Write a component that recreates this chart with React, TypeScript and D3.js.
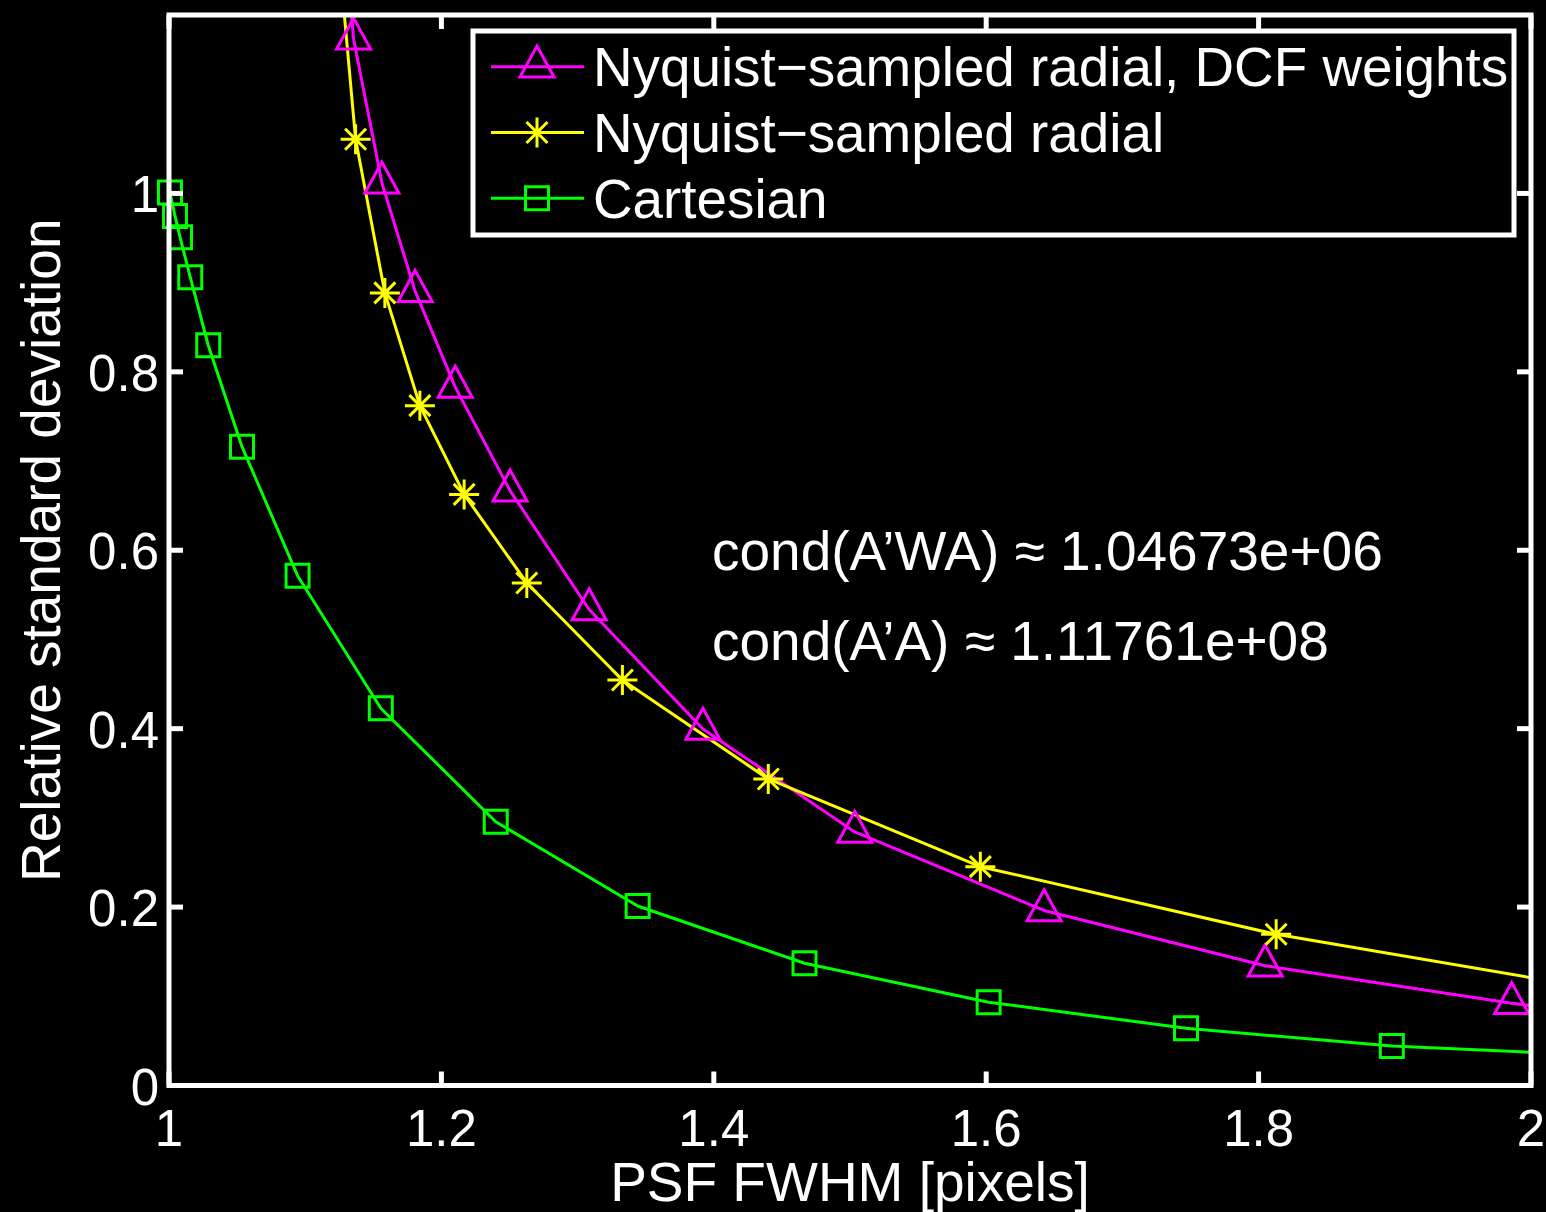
import React, { useRef, useEffect } from "react";
import * as d3 from "d3";

// Nyquist-sampled radial, DCF weights (magenta, triangles)
const dcfX = [1.1313, 1.1355, 1.1563, 1.1807, 1.2101, 1.2504, 1.3085, 1.392, 1.5035, 1.6425, 1.8048, 1.9858, 2.0];
const dcfY = [1.25, 1.1734, 1.012, 0.8904, 0.7831, 0.6668, 0.5336, 0.3997, 0.2842, 0.1962, 0.1343, 0.0923, 0.0895];
const dcfMarked = [false, true, true, true, true, true, true, true, true, true, true, true, false];

// Nyquist-sampled radial (yellow, stars)
const radX = [1.1258, 1.137, 1.1585, 1.1842, 1.2167, 1.2627, 1.3329, 1.44, 1.5957, 1.8129, 2.0];
const radY = [1.25, 1.0607, 0.8885, 0.7621, 0.6626, 0.5633, 0.4546, 0.3436, 0.2453, 0.1695, 0.1209];
const radMarked = [false, true, true, true, true, true, true, true, true, true, false];

// Cartesian (green, squares)
const cartX = [1.0007, 1.0044, 1.0081, 1.0156, 1.0288, 1.0536, 1.0944, 1.1555, 1.2399, 1.3441, 1.4666, 1.6018, 1.7467, 1.8978, 2.0];
const cartY = [1.0009, 0.9748, 0.9509, 0.9061, 0.8298, 0.7161, 0.5715, 0.4229, 0.2957, 0.2012, 0.137, 0.0934, 0.0641, 0.0443, 0.0372];
const cartMarked = [true, true, true, true, true, true, true, true, true, true, true, true, true, true, false];

const xTicks = [1, 1.2, 1.4, 1.6, 1.8, 2];
const yTicks = [0, 0.2, 0.4, 0.6, 0.8, 1];

const legendLabels = ["Nyquist\u2212sampled radial, DCF weights", "Nyquist\u2212sampled radial", "Cartesian"];
const condLines = ["cond(A\u2019WA) \u2248 1.04673e+06", "cond(A\u2019A) \u2248 1.11761e+08"];

const W = 1546;
const H = 1212;
const FONT = "'Liberation Sans', Arial, Helvetica, sans-serif";

const markerPath = {
  triangle: "M0,-20.7L17,10.3L-17,10.3Z",
  star: "M0,-15V15M-15,0H15M-10.5,-10.5L10.5,10.5M-10.5,10.5L10.5,-10.5",
  square: "M-11.5,-11.5H11.5V11.5H-11.5Z",
};

const series = [
  { x: dcfX, y: dcfY, marked: dcfMarked, color: "#ff00ff", marker: "triangle" },
  { x: radX, y: radY, marked: radMarked, color: "#ffff00", marker: "star" },
  { x: cartX, y: cartY, marked: cartMarked, color: "#00ff00", marker: "square" },
];

const Chart = () => {
  const ref = useRef(null);

  useEffect(() => {
    const svg = d3.select(ref.current);
    svg.selectAll("*").remove();

    const x = d3.scaleLinear().domain([1, 2]).range([169, 1531]);
    const y = d3.scaleLinear().domain([0, 1.2]).range([1085.5, 15]);
    const [x0, x1] = x.range();
    const [y0, y1] = y.range();

    svg.append("rect").attr("width", W).attr("height", H).attr("fill", "#000");

    svg
      .append("clipPath")
      .attr("id", "plot-clip")
      .append("rect")
      .attr("x", x0)
      .attr("y", y1)
      .attr("width", x1 - x0)
      .attr("height", y0 - y1);

    // lines
    const line = d3
      .line()
      .x((d) => x(d[0]))
      .y((d) => y(d[1]));

    const lines = svg.append("g").attr("clip-path", "url(#plot-clip)");
    series.forEach((s) => {
      lines
        .append("path")
        .datum(s.x.map((v, i) => [v, s.y[i]]))
        .attr("fill", "none")
        .attr("stroke", s.color)
        .attr("stroke-width", 3)
        .attr("stroke-linejoin", "round")
        .attr("d", line);
    });

    // markers
    series.forEach((s) => {
      const pts = s.x.map((v, i) => [v, s.y[i]]).filter((_, i) => s.marked[i]);
      svg
        .append("g")
        .selectAll("path")
        .data(pts)
        .join("path")
        .attr("transform", (d) => `translate(${x(d[0])},${y(d[1])})`)
        .attr("d", markerPath[s.marker])
        .attr("fill", "none")
        .attr("stroke", s.color)
        .attr("stroke-width", 3);
    });

    // axes box + ticks
    const axes = svg.append("g").attr("stroke", "#fff").attr("stroke-width", 5);
    axes
      .append("rect")
      .attr("x", x0)
      .attr("y", y1)
      .attr("width", x1 - x0)
      .attr("height", y0 - y1)
      .attr("fill", "none");

    const tl = 14;
    xTicks.forEach((t) => {
      axes.append("line").attr("x1", x(t)).attr("x2", x(t)).attr("y1", y0).attr("y2", y0 - tl);
      axes.append("line").attr("x1", x(t)).attr("x2", x(t)).attr("y1", y1).attr("y2", y1 + tl);
    });
    yTicks.forEach((t) => {
      axes.append("line").attr("x1", x0).attr("x2", x0 + tl).attr("y1", y(t)).attr("y2", y(t));
      axes.append("line").attr("x1", x1).attr("x2", x1 - tl).attr("y1", y(t)).attr("y2", y(t));
    });

    const text = svg
      .append("g")
      .attr("fill", "#fff")
      .attr("font-family", FONT);

    text
      .selectAll(".xt")
      .data(xTicks)
      .join("text")
      .attr("class", "xt")
      .attr("x", (d) => x(d))
      .attr("y", 1146)
      .attr("text-anchor", "middle")
      .attr("font-size", 51)
      .text((d) => d3.format("")(d));

    text
      .selectAll(".yt")
      .data(yTicks)
      .join("text")
      .attr("class", "yt")
      .attr("x", 159)
      .attr("y", (d) => y(d) + 19)
      .attr("text-anchor", "end")
      .attr("font-size", 51)
      .text((d) => d3.format("")(d));

    text
      .append("text")
      .attr("x", (x0 + x1) / 2)
      .attr("y", 1201)
      .attr("text-anchor", "middle")
      .attr("font-size", 55)
      .text("PSF FWHM [pixels]");

    text
      .append("text")
      .attr("transform", `translate(60,${(y0 + y1) / 2}) rotate(-90)`)
      .attr("text-anchor", "middle")
      .attr("font-size", 55)
      .text("Relative standard deviation");

    condLines.forEach((c, i) => {
      text
        .append("text")
        .attr("x", 712)
        .attr("y", 570 + i * 90)
        .attr("font-size", 55)
        .text(c);
    });

    // legend
    const lg = svg.append("g");
    lg.append("rect")
      .attr("x", 473)
      .attr("y", 31)
      .attr("width", 1041)
      .attr("height", 204)
      .attr("fill", "#000")
      .attr("stroke", "#fff")
      .attr("stroke-width", 5);

    series.forEach((s, i) => {
      const ry = 66.7 + i * 65.8;
      lg.append("line")
        .attr("x1", 491)
        .attr("x2", 584)
        .attr("y1", ry)
        .attr("y2", ry)
        .attr("stroke", s.color)
        .attr("stroke-width", 3);
      lg.append("path")
        .attr("transform", `translate(537,${ry})`)
        .attr("d", markerPath[s.marker])
        .attr("fill", "none")
        .attr("stroke", s.color)
        .attr("stroke-width", 3);
      lg.append("text")
        .attr("x", 593)
        .attr("y", ry + 19.5)
        .attr("fill", "#fff")
        .attr("font-family", FONT)
        .attr("font-size", 54.8)
        .text(legendLabels[i]);
    });
  }, []);

  return (
    <svg
      ref={ref}
      width={W}
      height={H}
      style={{ position: "absolute", left: 0, top: 0, display: "block" }}
    />
  );
};

export default function App() {
  return <Chart />;
}
